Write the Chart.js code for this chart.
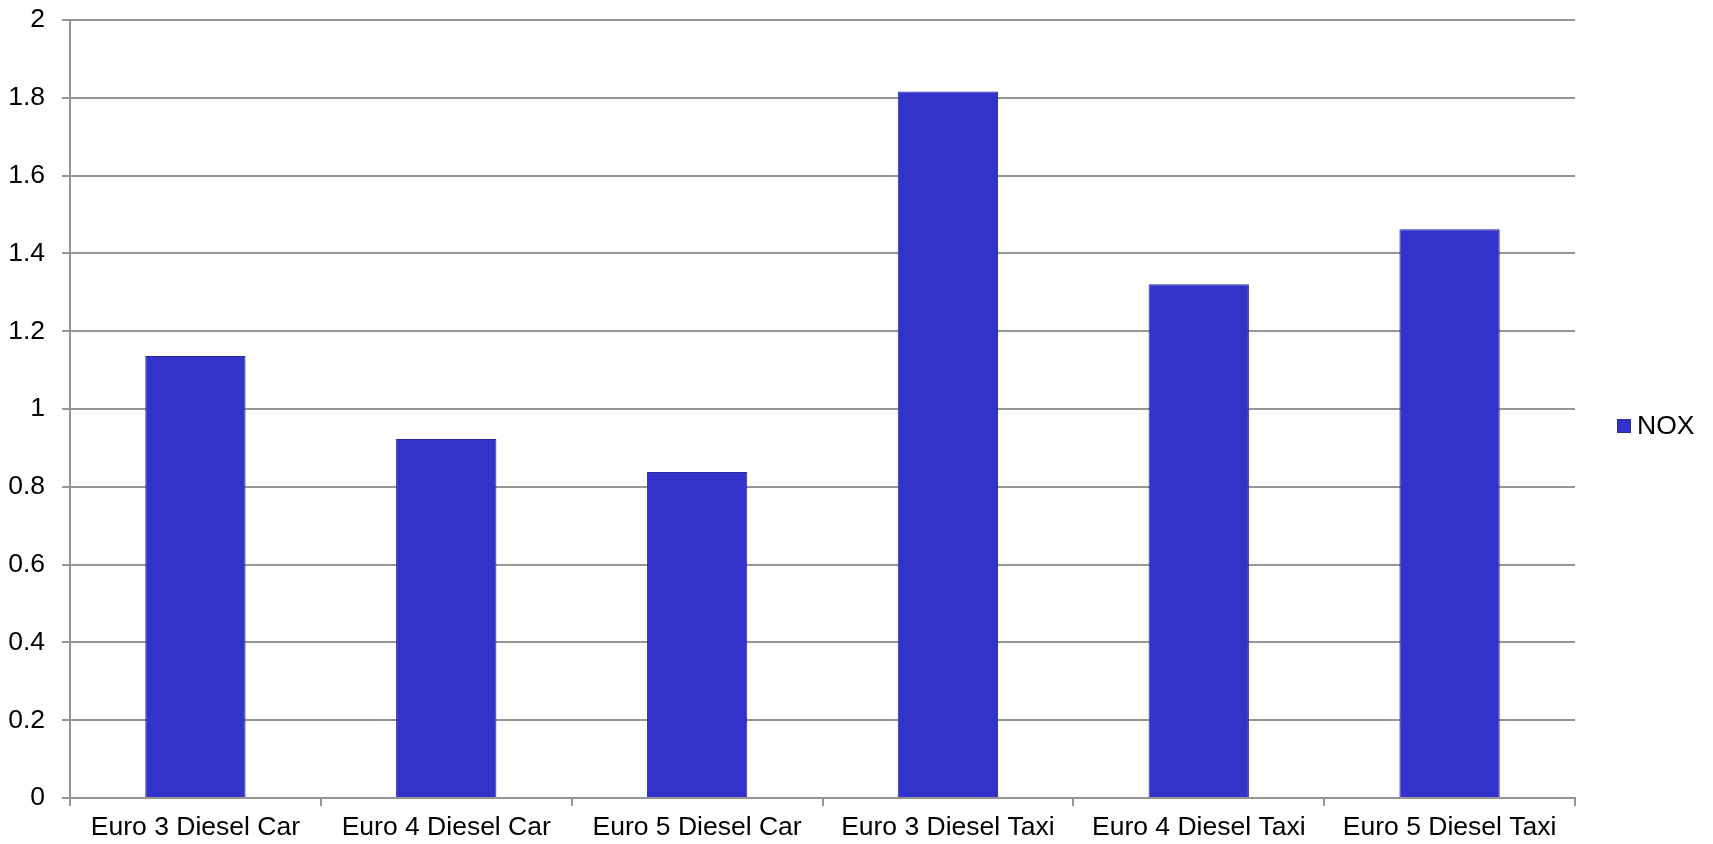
<!DOCTYPE html>
<html>
<head>
<meta charset="utf-8">
<title>NOX</title>
<script src="https://cdn.jsdelivr.net/npm/chart.js@4/dist/chart.umd.min.js"></script>
<style>
  html, body { margin: 0; padding: 0; background: #fff; }
  #wrap { width: 1713px; height: 844px; position: relative; }
</style>
</head>
<body>
<div id="wrap"><canvas id="chart"></canvas></div>
<script>
"use strict";

// NOX emissions by vehicle class
const CATEGORIES = ["Euro 3 Diesel Car", "Euro 4 Diesel Car", "Euro 5 Diesel Car",
  "Euro 3 Diesel Taxi", "Euro 4 Diesel Taxi", "Euro 5 Diesel Taxi"];
const NOX = [1.136, 0.923, 0.838, 1.816, 1.321, 1.462];
const SERIES_LABEL = "NOX";

const BAR_FILL = "#3333cc";
const BAR_EDGE = "#2a2a99";
const GRID = "#959595";
const FONT = { family: "'Liberation Sans', Arial, sans-serif", size: 26.5 };

// Legend on the right, drawn by hand so the plot area can be sized exactly.
const sideLegend = {
  id: "sideLegend",
  afterDraw(chart) {
    const ctx = chart.ctx;
    const area = chart.chartArea;
    const ds = chart.data.datasets[0];
    const box = 14;
    const x = area.right + 42;
    const y = (area.top + area.bottom) / 2 + 17;
    ctx.save();
    ctx.fillStyle = ds.backgroundColor;
    ctx.strokeStyle = ds.borderColor;
    ctx.lineWidth = 1;
    ctx.fillRect(x, y - box / 2, box, box);
    ctx.strokeRect(x + 0.5, y - box / 2 + 0.5, box - 1, box - 1);
    ctx.fillStyle = "#000";
    ctx.font = `${FONT.size}px ${FONT.family}`;
    ctx.textBaseline = "middle";
    ctx.textAlign = "left";
    ctx.fillText(ds.label, x + box + 6, y + 1);
    ctx.restore();
  },
};

new Chart(document.getElementById("chart"), {
  type: "bar",
  data: {
    labels: CATEGORIES,
    datasets: [{
      label: SERIES_LABEL,
      data: NOX,
      backgroundColor: BAR_FILL,
      borderColor: BAR_EDGE,
      borderWidth: 1,
      barPercentage: 0.4,
      categoryPercentage: 1,
    }],
  },
  options: {
    responsive: true,
    maintainAspectRatio: false,
    animation: false,
    layout: { padding: { top: 20, right: 138, left: 0, bottom: 0 } },
    plugins: { legend: { display: false }, tooltip: { enabled: false } },
    scales: {
      x: {
        offset: true,
        grid: { display: true, drawOnChartArea: false, offset: true,
                color: GRID, lineWidth: 2, tickLength: 8 },
        border: { color: GRID, width: 2 },
        ticks: { color: "#000", font: FONT, padding: 6, maxRotation: 0 },
        afterFit: (s) => { s.height = 46; },
      },
      y: {
        min: 0,
        max: 2,
        grid: { color: GRID, lineWidth: 2, tickLength: 8 },
        border: { color: GRID, width: 2 },
        ticks: {
          stepSize: 0.2,
          color: "#000",
          font: FONT,
          padding: 17,
          callback: (v) => String(Math.round(v * 10) / 10),
        },
        // fixed axis width; drop the label overhang so the plot starts at the top padding
        afterFit: (s) => { s.width = 70; s.paddingTop = 0; s.paddingBottom = 0; },
      },
    },
  },
  plugins: [sideLegend],
});
</script>
</body>
</html>
